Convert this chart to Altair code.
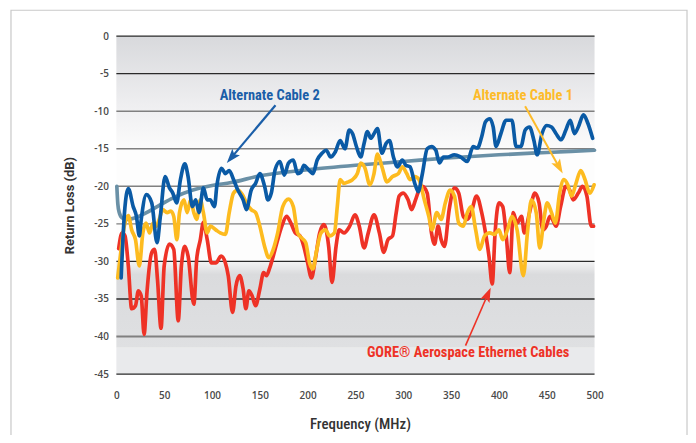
import altair as alt
import pandas as pd
import numpy as np

# ---------------- data ----------------
blue_f = [5, 8.5, 12.5, 17.6, 21, 24, 26, 31.4, 37, 42.5, 46, 51, 55.5, 59, 63, 67, 71.6, 75, 79.5, 83,
          86.4, 91, 95, 98, 102.6, 105, 110, 114, 118, 122.5, 127, 132.6, 136, 141, 145.6, 150, 155,
          158.5, 162, 166, 171, 175.6, 180, 185, 189.5, 193, 196, 201, 205.6, 210, 215, 219.5, 224,
          229, 234, 239, 243.5, 247, 251, 255.5, 259, 262.5, 266, 269.4, 273, 277.7, 282, 285.6,
          289.7, 294, 299, 302.7, 307, 312, 315.6, 320, 325, 329.5, 334, 337.8, 342, 346.6, 353.5,
          360, 367, 373, 377.5, 382, 386, 390.5, 394, 397, 402, 407.5, 413.6, 418, 423, 427.5, 432,
          436.6, 440, 445, 450, 455, 459.8, 465, 470, 474.6, 479, 483, 488.4, 493, 498]
blue_db = [-32.2, -23.5, -20.3, -22.7, -24, -26.6, -24.4, -21.1, -22.2, -27.5, -24, -18.7, -20.2, -20.9,
           -22.2, -19.1, -17, -18.7, -22.7, -21.8, -23.5, -20.2, -21.8, -21.8, -22.7, -20, -17.6, -18.3,
           -17.9, -19.1, -20.5, -21.8, -23.1, -20.5, -19.6, -18.3, -20, -21.8, -20.9, -17.8, -16.7,
           -18.5, -16.9, -16.5, -18.3, -18.1, -17.2, -17.8, -18.3, -16.5, -15.6, -15.2, -16.1, -15.4,
           -13.9, -15, -12.5, -13, -14.7, -16.1, -14.3, -12.7, -13.6, -13, -12.3, -15.6, -14.3, -13.9,
           -16.1, -17.4, -16.5, -17.2, -17.4, -19.6, -20.7, -18.3, -15, -14.7, -15.2, -16.9, -16.1,
           -16.1, -15.8, -16.1, -16.7, -14.7, -14.9, -13.4, -11.4, -11, -12.1, -14.7, -13, -11.2,
           -11.2, -14.7, -14.7, -12.5, -12.1, -13.9, -15.8, -13, -11.9, -12.1, -13, -13.8, -12.5,
           -11.2, -13, -12.1, -10.5, -11.6, -13.6]

limit_f = [0.5, 1.5, 3, 6, 12, 20, 30, 44, 60, 80, 100, 120, 150, 200, 250, 300, 350, 400, 450, 500]
limit_db = [-20, -22.3, -23.5, -24.2, -24.4, -24.2, -23.6, -22.6, -21.5, -20.5, -19.9, -19.5, -18.6,
            -17.8, -17.2, -16.7, -16.2, -15.8, -15.5, -15.2]

yellow_f = [1.4, 4.6, 8.3, 12.5, 16, 20, 24, 27.7, 31, 34.7, 38.4, 41.6, 44.8, 48.5, 53, 57, 60, 63.3,
            66, 70.7, 74, 77.6, 81, 84, 87.8, 91, 95, 98.4, 104, 108.6, 114, 118, 122.5, 127, 131.7,
            136, 141, 145.6, 150, 155, 159.4, 164, 168.7, 174, 180, 185, 189.5, 194, 198, 202, 205.6,
            209, 214, 218.6, 223, 228, 231, 234, 238, 242.6, 247, 252, 255.5, 260, 265, 269.4, 273,
            277.7, 283, 288.8, 295, 299, 303.6, 307, 312, 316.5, 322, 326.7, 330, 335, 339.6, 344,
            349, 353.5, 358, 362.8, 367, 371, 375.7, 380, 385, 390.5, 395, 400, 404, 409, 413.6, 419,
            425.6, 429.8, 434, 439, 442.7, 447, 450.5, 455, 459, 463.5, 468, 472, 476, 480.6, 485.6,
            490, 495, 499.5]
yellow_db = [-32.2, -28.8, -25.3, -23.9, -25.8, -27.1, -30.6, -26.2, -24.9, -26.2, -24.9, -25.3, -24.4,
             -23.1, -23.5, -23.3, -24, -27.1, -23.5, -21.8, -23.5, -21.8, -23.5, -24.4, -21.8, -23.5,
             -26.2, -25.3, -25.8, -26.2, -26.4, -23.5, -20.9, -20.5, -21.1, -22.2, -23.1, -23.5, -25.3,
             -28, -29.5, -28.4, -26.2, -22.7, -21.7, -22.7, -26.2, -26.9, -27.5, -30.2, -31, -28.8,
             -26.2, -25.8, -26.6, -26.2, -22.7, -19.1, -19.6, -19.4, -19.1, -18.3, -16.9, -17.6, -19.8,
             -18.3, -15.7, -17.4, -19.4, -18.7, -18.3, -17.4, -18.3, -19.1, -18.7, -19.1, -21.8, -24,
             -25.8, -23.5, -24.4, -22.2, -20.5, -21.3, -24.9, -25.3, -23.5, -22.7, -25.8, -28.4, -26.6,
             -26.2, -26.4, -25.8, -27.1, -25.8, -24, -25.8, -31.9, -26.2, -21.8, -23.5, -28.2, -24.4,
             -22.2, -23.5, -24.9, -20.9, -19.1, -19.8, -21.3, -19.6, -17.9, -19.1, -20.9, -19.8]

red_f = [2.4, 6, 9, 12.5, 16, 20, 23, 26, 29, 32, 37, 40, 43, 46.7, 50, 55.5, 60, 64.7, 68, 71.6, 75,
         81, 84, 87.8, 91, 95, 99.4, 104, 109.5, 114, 117, 121.5, 125, 129, 132.6, 135.4, 138.6, 142,
         145.6, 150, 154, 157, 160, 164, 168.7, 173, 178, 182.5, 187, 192, 196, 200, 204, 208, 212.6,
         217, 222, 225.5, 229.7, 233, 238, 244, 249.5, 254, 259, 263.4, 269.4, 275, 279.6, 284, 288.8,
         292.5, 295.7, 300, 305, 308.7, 312.8, 316.5, 320, 325, 329.5, 332.7, 336.4, 339.6, 343, 348,
         353.5, 358, 362.8, 367, 371, 376.6, 382, 386, 389.6, 393, 396, 400, 404, 408, 411.3, 415,
         419, 423.7, 426.5, 432, 437.6, 442, 446, 449.6, 453.3, 456, 459.8, 464.5, 470, 474, 477.6,
         483, 487.5, 492, 496.6, 499]
red_db = [-28.3, -26.2, -26.6, -30.6, -36.3, -35.9, -33.9, -34.6, -39.7, -34.1, -28.8, -28.4, -32.4,
          -38.9, -30.6, -27.7, -28.4, -37.9, -30.6, -28, -29.3, -35.7, -29.7, -27.1, -24.8, -27.1,
          -30.2, -30.2, -29.3, -30.2, -31.9, -36.8, -33.3, -31.9, -33.7, -36.3, -33.9, -34.6, -35.9,
          -33.7, -31.5, -31.9, -31, -29.3, -27.1, -25.3, -24, -24.9, -26.2, -26.6, -28, -30.2, -32.2,
          -29.7, -26.2, -25.1, -28, -32.8, -28, -25.8, -26.2, -25.3, -23.8, -25.3, -28.2, -26.2, -23.8,
          -26.2, -28.8, -27.1, -26.6, -23.6, -21.3, -20.9, -21.8, -23.1, -21.8, -20.5, -20, -20.9,
          -26.2, -27.7, -25.3, -27.1, -28, -23.1, -20.2, -20.9, -24, -24.4, -23.5, -21.3, -23.5, -26.2,
          -29.3, -33, -26.2, -22.2, -22.7, -27.1, -31.5, -23.5, -24.9, -24, -26.2, -23.5, -20.9, -22.2,
          -25.8, -25.3, -24, -24.4, -25.3, -22.7, -20, -20.5, -21.8, -20.9, -20, -21.3, -25.3, -25.3]

series_names = ["Limit", "GORE® Aerospace Ethernet Cables", "Alternate Cable 1", "Alternate Cable 2"]
series_colors = ["#6a90a6", "#ee3226", "#fdbb1f", "#0a5aa5"]

x_ticks = [0, 50, 100, 150, 200, 250, 300, 350, 400, 450, 500]
y_ticks = [0, -5, -10, -15, -20, -25, -30, -35, -40, -45]
grid_colors = ["#2a2a2a", "#2a2a2a", "#808080", "#808080", "#808080", "#808080",
               "#2a2a2a", "#2a2a2a", "#808080", "#2a2a2a"]
grid_widths = [1.3, 1.3, 1.5, 1.5, 1.5, 1.5, 1.3, 1.3, 2.0, 1.3]

# annotations
ann_text = ["Alternate Cable 2", "Alternate Cable 1", "GORE® Aerospace Ethernet Cables"]
ann_f = [160.3, 425.1, 367.8]
ann_db = [-8.0, -8.0, -42.2]
ann_color = ["#1a5ea8", "#fdbb2a", "#ee3226"]
arrow_f0 = [166.4, 427.4, 365.1]
arrow_db0 = [-9.2, -9.35, -41.2]
arrow_f1 = [115.5, 466.7, 391.4]
arrow_db1 = [-16.9, -18.3, -33.5]
arrow_w = [2.2, 2.0, 1.6]

# ---------------- build ----------------
W, H = 481, 340
sx, sy = W / 500.0, H / 45.0

lines_df = pd.concat([
    pd.DataFrame({"series": series_names[0], "f": limit_f, "db": limit_db, "o": 0}),
    pd.DataFrame({"series": series_names[1], "f": red_f, "db": red_db, "o": 1}),
    pd.DataFrame({"series": series_names[2], "f": yellow_f, "db": yellow_db, "o": 2}),
    pd.DataFrame({"series": series_names[3], "f": blue_f, "db": blue_db, "o": 3}),
], ignore_index=True)

x_scale = alt.Scale(domain=[0, 500], nice=False, zero=False)
y_scale = alt.Scale(domain=[-45, 0], nice=False, zero=False)

label_font = "Open Sans"
narrow = "Liberation Sans Narrow, Roboto Condensed, Roboto"

x_axis = alt.Axis(values=x_ticks, title="Frequency (MHz)", grid=False, ticks=False,
                  domain=False, labelFont=label_font, labelFontSize=10, labelFontWeight=600,
                  labelColor="#4a4a4a", labelPadding=17, labelFlush=False, labelOverlap=False,
                  titleFont=narrow, titleFontSize=15, titleFontWeight=500,
                  titleColor="#333333", titleX=245, titleY=50, titleAlign="center",
                  titleBaseline="middle")
y_axis = alt.Axis(values=y_ticks, title="Return Loss (dB)", grid=False, ticks=False,
                  domain=False, labelFont=label_font, labelFontSize=10, labelFontWeight=600,
                  labelColor="#4a4a4a", labelPadding=8, labelFlush=False, labelOverlap=False,
                  labelExpr="'' + datum.value",
                  titleFont="Roboto", titleFontSize=13, titleFontWeight="bold",
                  titleColor="#333333", titleX=-47, titleY=170, titleAlign="center",
                  titleBaseline="middle", titleAngle=270)


def X(field):
    return alt.X(field, scale=x_scale, axis=x_axis)


def Y(field):
    return alt.Y(field, scale=y_scale, axis=y_axis)


def grad(stops):
    return {"gradient": "linear", "x1": 0, "y1": 0, "x2": 0, "y2": 1,
            "stops": [{"offset": o, "color": c} for o, c in stops]}


def band(top, bottom, fill):
    return alt.Chart(pd.DataFrame({"y": [top], "y2": [bottom]})).mark_rect(fill=fill).encode(
        x=alt.value(0), x2=alt.value(W),
        y=Y("y:Q"), y2="y2:Q")


bands = [
    band(0, -15, grad([(0, "#d8d9dc"), (0.6, "#eeeef0"), (1, "#fbfbfb")])),
    band(-15, -30, "#fdfdfd"),
    band(-30, -41.5, grad([(0, "#f3f3f4"), (0.15, "#dadbdd"), (1, "#dfe0e2")])),
    band(-41.5, -45, "#e9eaec"),
]

border = alt.Chart(pd.DataFrame({"a": [0]})).mark_rect(
    fill="transparent", stroke="#c9c9c9", strokeWidth=1.2).encode(
    x=alt.value(-106), x2=alt.value(574), y=alt.value(-26), y2=alt.value(520))

grid_df = pd.DataFrame({"db": y_ticks, "c": grid_colors, "w": grid_widths})
grid = alt.Chart(grid_df).mark_rule().encode(
    y=Y("db:Q"),
    color=alt.Color("c:N", scale=None),
    strokeWidth=alt.StrokeWidth("w:Q", scale=None))

lines = alt.Chart(lines_df).mark_line(interpolate="monotone", strokeWidth=3.7,
                                      strokeCap="round", strokeJoin="round").encode(
    x=X("f:Q"),
    y=Y("db:Q"),
    color=alt.Color("series:N", scale=alt.Scale(domain=series_names, range=series_colors), legend=None),
    detail="series:N",
    order="o:Q",
)

# arrows
head_size = 330.0
r = np.sqrt(head_size) / 2.0
f0, d0 = np.array(arrow_f0), np.array(arrow_db0)
f1, d1 = np.array(arrow_f1), np.array(arrow_db1)
dx = (f1 - f0) * sx
dy = -(d1 - d0) * sy
L = np.hypot(dx, dy)
ux, uy = dx / L, dy / L
ang = (np.degrees(np.arctan2(ux, -uy)) + 360) % 360
fc = f1 - r * ux / sx
dc = d1 + r * uy / sy

arrow_df = pd.DataFrame({"f0": f0, "d0": d0, "fc": fc, "dc": dc, "ang": ang,
                         "c": ann_color, "w": arrow_w})
shafts = alt.Chart(arrow_df).mark_rule().encode(
    x=X("f0:Q"), y=Y("d0:Q"),
    x2="fc:Q", y2="dc:Q",
    color=alt.Color("c:N", scale=None), strokeWidth=alt.StrokeWidth("w:Q", scale=None))
heads = alt.Chart(arrow_df).mark_point(
    shape="M0,-1L0.55,0.6L0,0.28L-0.55,0.6Z", filled=True, size=head_size, opacity=1).encode(
    x=X("fc:Q"), y=Y("dc:Q"),
    angle=alt.Angle("ang:Q", scale=None), color=alt.Color("c:N", scale=None))

text_df = pd.DataFrame({"t": ann_text, "f": ann_f, "db": ann_db, "c": ann_color})
texts = alt.Chart(text_df).mark_text(font=narrow, fontSize=14.5, fontWeight="bold",
                                     align="center", baseline="middle").encode(
    x=X("f:Q"), y=Y("db:Q"),
    text="t:N", color=alt.Color("c:N", scale=None))

chart = alt.layer(border, *bands, grid, lines, shafts, heads, texts).properties(
    width=W, height=H,
    padding={"left": 109, "top": 27, "right": 94, "bottom": 60},
    autosize=alt.AutoSizeParams(type="none"),
    background="white",
).configure_view(stroke=None)

chart.save("out.html", embed_options={"renderer": "svg", "actions": False})
